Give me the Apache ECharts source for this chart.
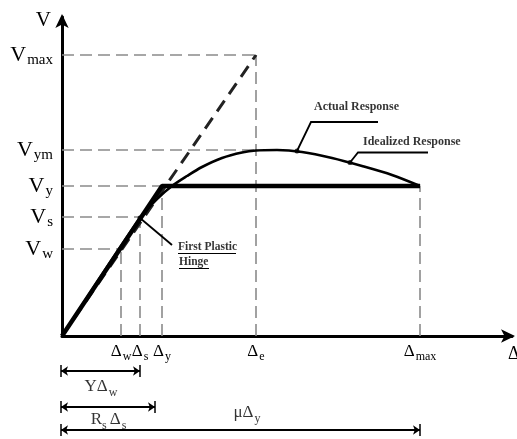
<!DOCTYPE html>
<html><head><meta charset="utf-8">
<script src="https://cdn.jsdelivr.net/npm/echarts@6/dist/echarts.min.js"></script>
<style>html,body{margin:0;padding:0;background:#fff}#c{width:517px;height:439px}</style>
</head><body><div id="c"></div>
<script>
// Displacement marks (Δ) on the horizontal axis
const dispKeys = ['w', 's', 'y', 'e', 'max'];
const dispValues = [59, 78, 100, 194, 358];
// Force marks (V) on the vertical axis
const forceKeys = ['w', 's', 'y', 'ym', 'max'];
const forceValues = [87, 119, 150, 186, 281];
// Actual response curve
const actualX = [0, 78, 95, 110, 125, 140, 160, 180, 194, 215, 240, 270, 300, 330, 358];
const actualY = [0, 118, 137, 150, 160, 169, 178, 183.5, 185.5, 186, 184, 178, 170, 161, 150];
// Idealized bilinear response
const idealX = [0, 100, 358];
const idealY = [0, 150, 150];
// Elastic line
const elasticX = [0, 194];
const elasticY = [0, 281];
// Dimension lines below the axis
const dimEnds = [78, 93, 358];
const dimLevels = [-35, -71, -94];

const FONT = 'Liberation Serif';
const chart = echarts.init(document.getElementById('c'));

const pair = (xs, ys) => xs.map((x, i) => [x, ys[i]]);
const dashGray = {color: '#8a8a8a', width: 1.6, type: [12, 6], opacity: 1};

const idxF = k => forceValues[forceKeys.indexOf(k)];
const idxD = k => dispValues[dispKeys.indexOf(k)];
const refH = [
  [[0, idxF('max')], [idxD('e'), idxF('max')]],
  [[0, idxF('ym')], [idxD('e'), idxF('ym')]],
  [[0, idxF('y')], [idxD('y'), idxF('y')]],
  [[0, idxF('s')], [idxD('s'), idxF('s')]],
  [[0, idxF('w')], [idxD('w'), idxF('w')]]
];
const refV = [
  [[idxD('w'), 0], [idxD('w'), idxF('w')]],
  [[idxD('s'), 0], [idxD('s'), idxF('s')]],
  [[idxD('y'), 0], [idxD('y'), idxF('y')]],
  [[idxD('e'), 0], [idxD('e'), idxF('max')]],
  [[idxD('max'), 0], [idxD('max'), idxF('y')]]
];

// annotation anchors on the actual curve
const aA = [235, 185];
const aI = [288, 173.5];
const aH = [actualX[1], actualY[1]];

const leaders = [
  [aA, [aA[0] + 14, aA[1] + 29], [aA[0] + 81, aA[1] + 29]],
  [aI, [aI[0] + 8, aI[1] + 10], [aI[0] + 78, aI[1] + 10]],
  [aH, [aH[0] + 32, aH[1] - 27]]
];

const richBase = {
  V: {fontFamily: FONT, fontSize: 22, lineHeight: 22, verticalAlign: 'top', color: '#000'},
  vs: {fontFamily: FONT, fontSize: 15, lineHeight: 15, padding: [9, 0, 0, 1], verticalAlign: 'top', color: '#000'},
  D: {fontFamily: FONT, fontSize: 17, lineHeight: 17, verticalAlign: 'top', color: '#000'},
  ds: {fontFamily: FONT, fontSize: 12, lineHeight: 12, padding: [8, 0, 0, 1], verticalAlign: 'top', color: '#000'},
  dsp: {fontFamily: FONT, fontSize: 12, lineHeight: 12, padding: [8, 3, 0, 0], verticalAlign: 'top', color: '#000'}
};

const dimLabelText = [
  '{D|YΔ}{ds|w}',
  '{D|R}{dsp|s}{D|Δ}{ds|s}',
  '{D|μΔ}{ds|y}'
];
const dimLabelPos = [
  [dimEnds[0] / 2, dimLevels[0] - 16],
  [dimEnds[1] / 2, dimLevels[1] - 13],
  [dimEnds[2] / 2 + 6, dimLevels[2] + 17]
];

const textAnno = [
  {pos: [aA[0] + 17, aA[1] + 44], text: 'Actual Response', size: 12},
  {pos: [aI[0] + 13, aI[1] + 21], text: 'Idealized Response', size: 12},
  {pos: [aH[0] + 38, aH[1] - 29], text: 'First Plastic', size: 11.5},
  {pos: [aH[0] + 39, aH[1] - 44], text: 'Hinge', size: 11.5}
];
const underlines = [
  [[aH[0] + 38, aH[1] - 35], [aH[0] + 96, aH[1] - 35]],
  [[aH[0] + 39, aH[1] - 50], [aH[0] + 69, aH[1] - 50]]
];

const option = {
  animation: false,
  backgroundColor: '#fff',
  grid: [
    {left: 62, right: 5, top: 17, bottom: 103, outerBoundsMode: 'none', containLabel: false},
    {left: 52, right: 5, top: 336, bottom: 0, outerBoundsMode: 'none', containLabel: false}
  ],
  xAxis: [
    {
      gridIndex: 0, type: 'value', min: 0, max: 450,
      splitLine: {show: false}, axisTick: {show: false},
      axisLine: {lineStyle: {color: '#000', width: 3}, symbol: ['none', 'arrow'], symbolSize: [10, 14], symbolOffset: [0, 3]},
      axisLabel: {
        customValues: dispValues, margin: 7, hideOverlap: false,
        formatter: v => '{D|Δ}{ds|' + dispKeys[dispValues.indexOf(v)] + '}',
        rich: richBase
      },
      name: 'Δ', nameLocation: 'end', nameGap: -4,
      nameTextStyle: {fontFamily: FONT, fontSize: 18, color: '#000', align: 'left', verticalAlign: 'top', padding: [9, 0, 0, 0]}
    },
    {gridIndex: 1, type: 'value', min: -10, max: 450, show: false}
  ],
  yAxis: [
    {
      gridIndex: 0, type: 'value', min: 0, max: 319,
      splitLine: {show: false}, axisTick: {show: false},
      axisLine: {lineStyle: {color: '#000', width: 3}, symbol: ['none', 'arrow'], symbolSize: [10, 14], symbolOffset: [0, 3]},
      axisLabel: {
        customValues: forceValues, margin: 9, hideOverlap: false,
        formatter: v => '{V|V}{vs|' + forceKeys[forceValues.indexOf(v)] + '}',
        rich: richBase
      },
      name: 'V', nameLocation: 'end', nameGap: -3,
      nameTextStyle: {fontFamily: FONT, fontSize: 21, color: '#000', align: 'right', verticalAlign: 'middle', padding: [0, 11, 0, 0]}
    },
    {gridIndex: 1, type: 'value', min: -103, max: 0, show: false}
  ],
  series: [
    {
      type: 'lines', coordinateSystem: 'cartesian2d', xAxisIndex: 0, yAxisIndex: 0, silent: true, z: 1,
      lineStyle: dashGray, symbol: ['none', 'none'],
      data: refH.concat(refV).map(c => ({coords: c}))
    },
    {
      type: 'line', xAxisIndex: 0, yAxisIndex: 0, silent: true, z: 2, symbol: 'none',
      lineStyle: {color: '#222', width: 3, type: [13, 8]},
      data: pair(elasticX, elasticY)
    },
    {
      type: 'line', xAxisIndex: 0, yAxisIndex: 0, silent: true, z: 3, symbol: 'none',
      smooth: 0.3,
      lineStyle: {color: '#000', width: 2.6},
      data: pair(actualX, actualY)
    },
    {
      type: 'line', xAxisIndex: 0, yAxisIndex: 0, silent: true, z: 4, symbol: 'none',
      lineStyle: {color: '#000', width: 4.5},
      data: pair(idealX, idealY)
    },
    {
      type: 'lines', coordinateSystem: 'cartesian2d', xAxisIndex: 0, yAxisIndex: 0, silent: true, z: 5,
      polyline: true, symbol: ['none', 'none'],
      lineStyle: {color: '#000', width: 1.8, opacity: 1},
      data: leaders.map(c => ({coords: c}))
    },
    {
      type: 'lines', coordinateSystem: 'cartesian2d', xAxisIndex: 0, yAxisIndex: 0, silent: true, z: 5,
      symbol: ['none', 'none'],
      lineStyle: {color: '#000', width: 1, opacity: 1},
      data: underlines.map(c => ({coords: c}))
    },
    {
      type: 'scatter', xAxisIndex: 0, yAxisIndex: 0, silent: true, z: 6,
      symbolSize: 5, itemStyle: {color: '#000'},
      data: [aA, aI, aH]
    },
    {
      type: 'scatter', xAxisIndex: 0, yAxisIndex: 0, silent: true, z: 6, symbolSize: 0,
      data: textAnno.map(t => ({
        value: t.pos,
        label: {
          show: true, position: 'right', distance: 0, formatter: t.text,
          fontFamily: FONT, fontWeight: 'bold', fontSize: t.size, color: '#000'
        }
      }))
    },
    {
      type: 'lines', coordinateSystem: 'cartesian2d', xAxisIndex: 1, yAxisIndex: 1, silent: true, z: 5,
      symbol: ['arrow', 'arrow'], symbolSize: 7,
      lineStyle: {color: '#000', width: 2, opacity: 1},
      data: dimEnds.map((e, i) => ({coords: [[-1, dimLevels[i]], [e, dimLevels[i]]]}))
    },
    {
      type: 'lines', coordinateSystem: 'cartesian2d', xAxisIndex: 1, yAxisIndex: 1, silent: true, z: 5,
      symbol: ['none', 'none'],
      lineStyle: {color: '#000', width: 1.5, opacity: 1},
      data: dimEnds.flatMap((e, i) => [
        {coords: [[-1, dimLevels[i] - 6], [-1, dimLevels[i] + 6]]},
        {coords: [[e, dimLevels[i] - 6], [e, dimLevels[i] + 6]]}
      ])
    },
    {
      type: 'scatter', xAxisIndex: 1, yAxisIndex: 1, silent: true, z: 6, symbolSize: 0,
      data: dimLabelPos.map((p, i) => ({
        value: p,
        label: {show: true, position: 'inside', formatter: dimLabelText[i], rich: richBase}
      }))
    }
  ]
};
chart.setOption(option);
</script>
</body></html>
